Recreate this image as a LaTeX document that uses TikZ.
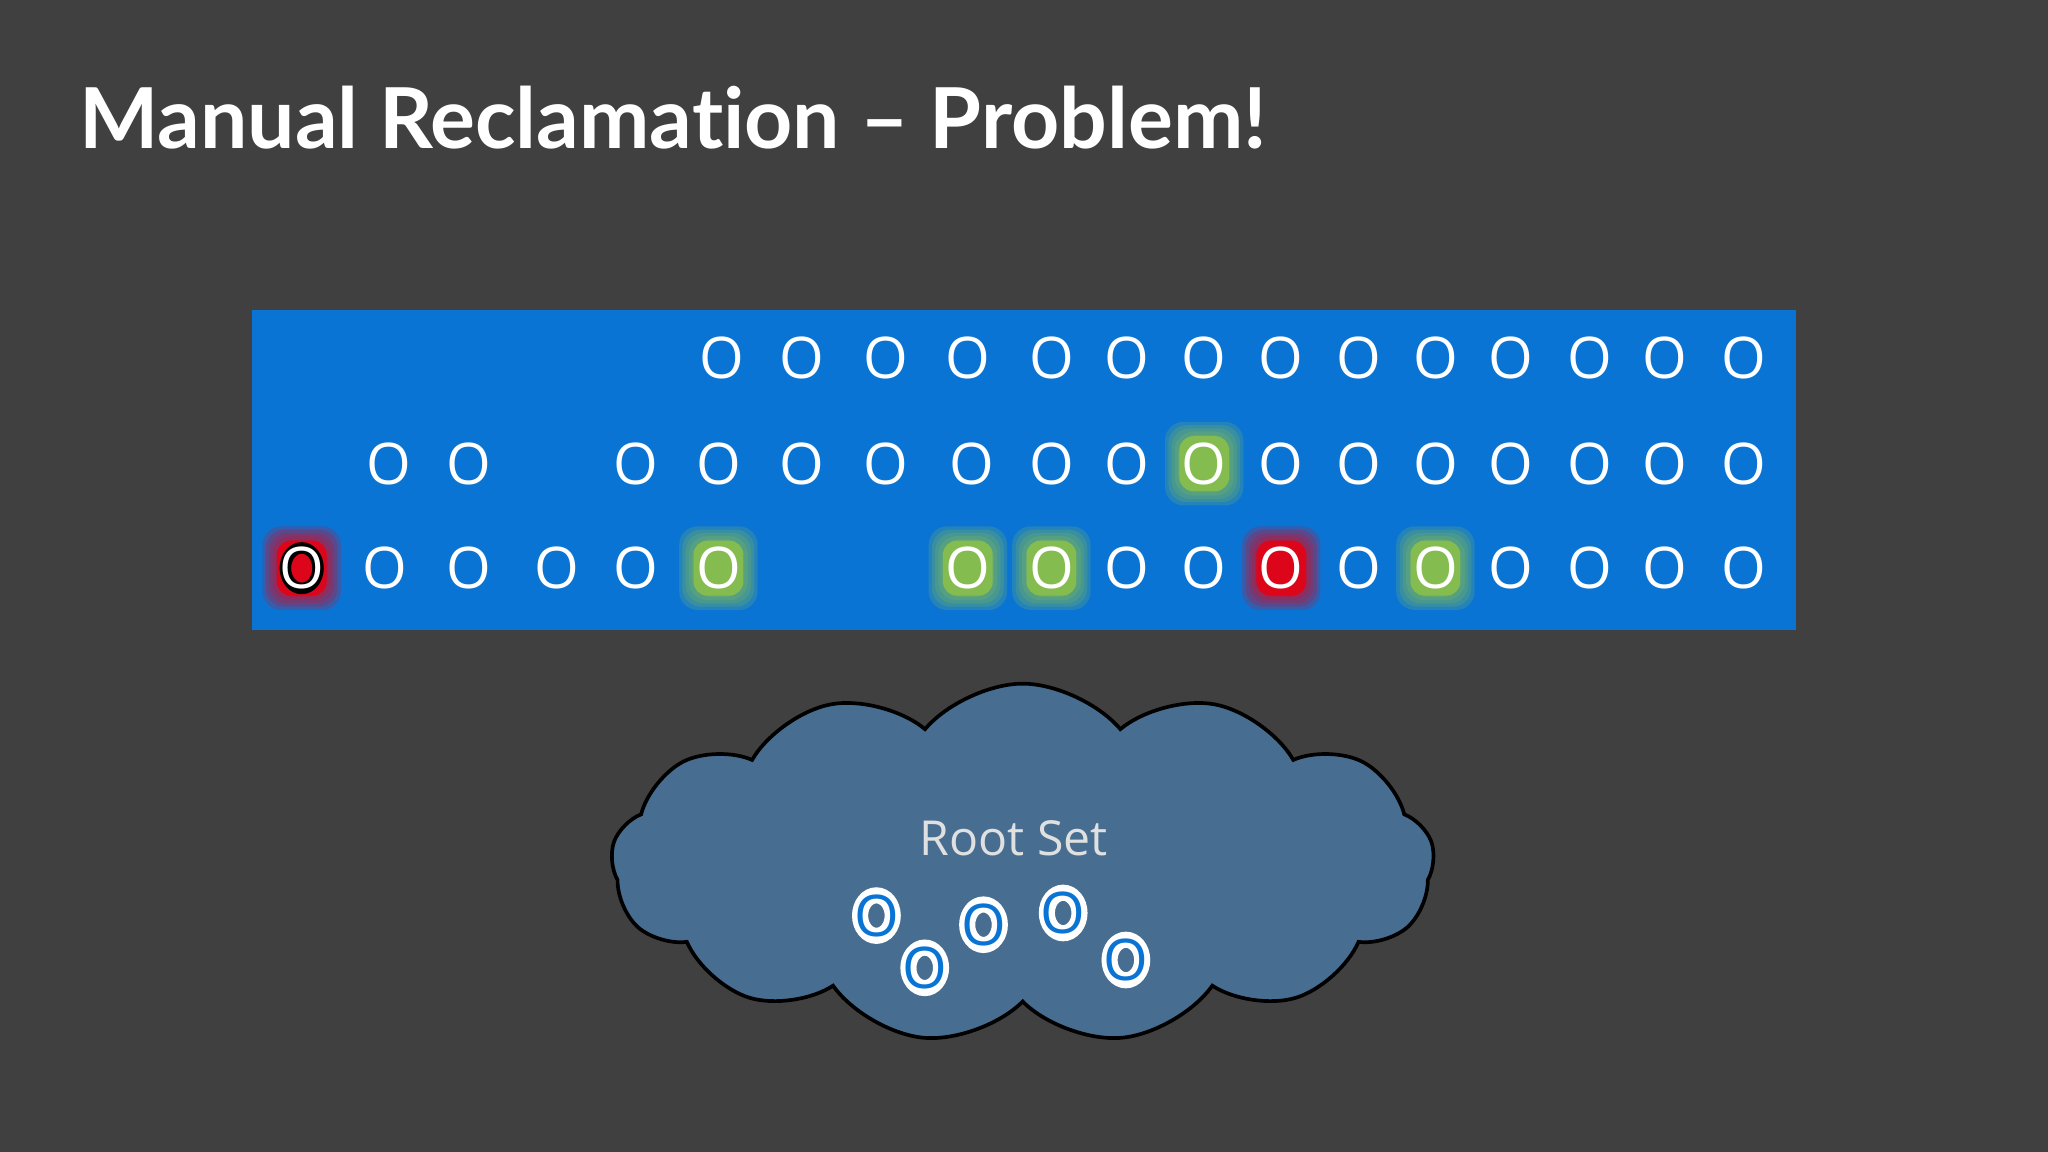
\documentclass[tikz,border=0pt]{standalone}
\usepackage{fontspec}
\setmainfont{Open Sans}
\newfontfamily\titlefont[Ligatures=NoCommon]{Lato}
\usetikzlibrary{shapes.symbols}
\definecolor{bg}{HTML}{404040}
\definecolor{panel}{HTML}{0A74D4}
\definecolor{gl}{HTML}{8CC04A}
\definecolor{rd}{HTML}{E80010}
\definecolor{cloudc}{HTML}{476E91}
\definecolor{rootO}{HTML}{0A74D4}
\tikzset{
  obj/.style={text=white,font=\fontsize{12.5}{12}\selectfont,inner sep=0pt},
  rootobj/.style={text=rootO,font=\fontsize{12.5}{12}\selectfont,inner sep=0pt},
}
\newcommand{\myglow}[3]{%
  \foreach \k in {0,1,2,3,4}{
    \fill[#3,opacity=0.2,rounded corners=4] ({#1-20-2.5*\k},{#2-22-2.5*\k}) rectangle ({#1+20+2.5*\k},{#2+22+2.5*\k});
  }
  \fill[#3,opacity=0.85,rounded corners=3] ({#1-19},{#2-21}) rectangle ({#1+19},{#2+21});
}
\begin{document}
\begin{tikzpicture}[x=0.01cm,y=-0.01cm]
\fill[bg] (0,0) rectangle (1568,882);
\useasboundingbox (0,0) rectangle (1568,882);
\node[anchor=base west,text=white,font=\titlefont\fontsize{18.3}{24}\selectfont\bfseries,inner sep=0pt] (title) at (60,114) {Manual Reclamation – Problem!};
\fill[panel] (193,237) rectangle (1375,482);
% highlights
\myglow{922}{355}{gl}
\myglow{550}{435}{gl}
\myglow{741}{435}{gl}
\myglow{805}{435}{gl}
\myglow{1099}{435}{gl}
\myglow{231}{435}{rd}
\myglow{981}{435}{rd}
% row 1
\foreach \x [count=\i] in {553,614,678,741,805,863,922,981,1040,1099,1157,1217,1275,1335}
  \node[obj] (a\i) at (\x,274) {O};
% row 2
\foreach \x [count=\i] in {298,359,487,550,614,678,744,805,863,922,981,1040,1099,1157,1217,1275,1335}
  \node[obj] (b\i) at (\x,355) {O};
% row 3
\foreach \x [count=\i] in {295,359,426,487,550,741,805,863,922,981,1040,1099,1157,1217,1275,1335}
  \node[obj] (c\i) at (\x,435) {O};
\draw[black,line width=2.5pt] (231,435) ellipse (12.5 and 15.5);
\node[obj] (c0) at (231,435) {O};
% cloud
\node[cloud,cloud puffs=13,cloud puff arc=100,aspect=2.4,draw=black,line width=0.8pt,fill=cloudc,minimum width=6.3cm,minimum height=2.75cm] (cloud) at (783,661) {};
\node[text=white!88!black,font=\fontsize{10.5}{12}\selectfont] (rs) at (776,642) {Root Set};
\foreach \x/\y [count=\i] in {671/701,708/741,753/708,814/699,862/735}{
  \draw[white,line width=3.5pt] (\x,\y) ellipse (12.5 and 15.5);
  \node[rootobj] (r\i) at (\x,\y) {O};
}
\end{tikzpicture}
\end{document}
